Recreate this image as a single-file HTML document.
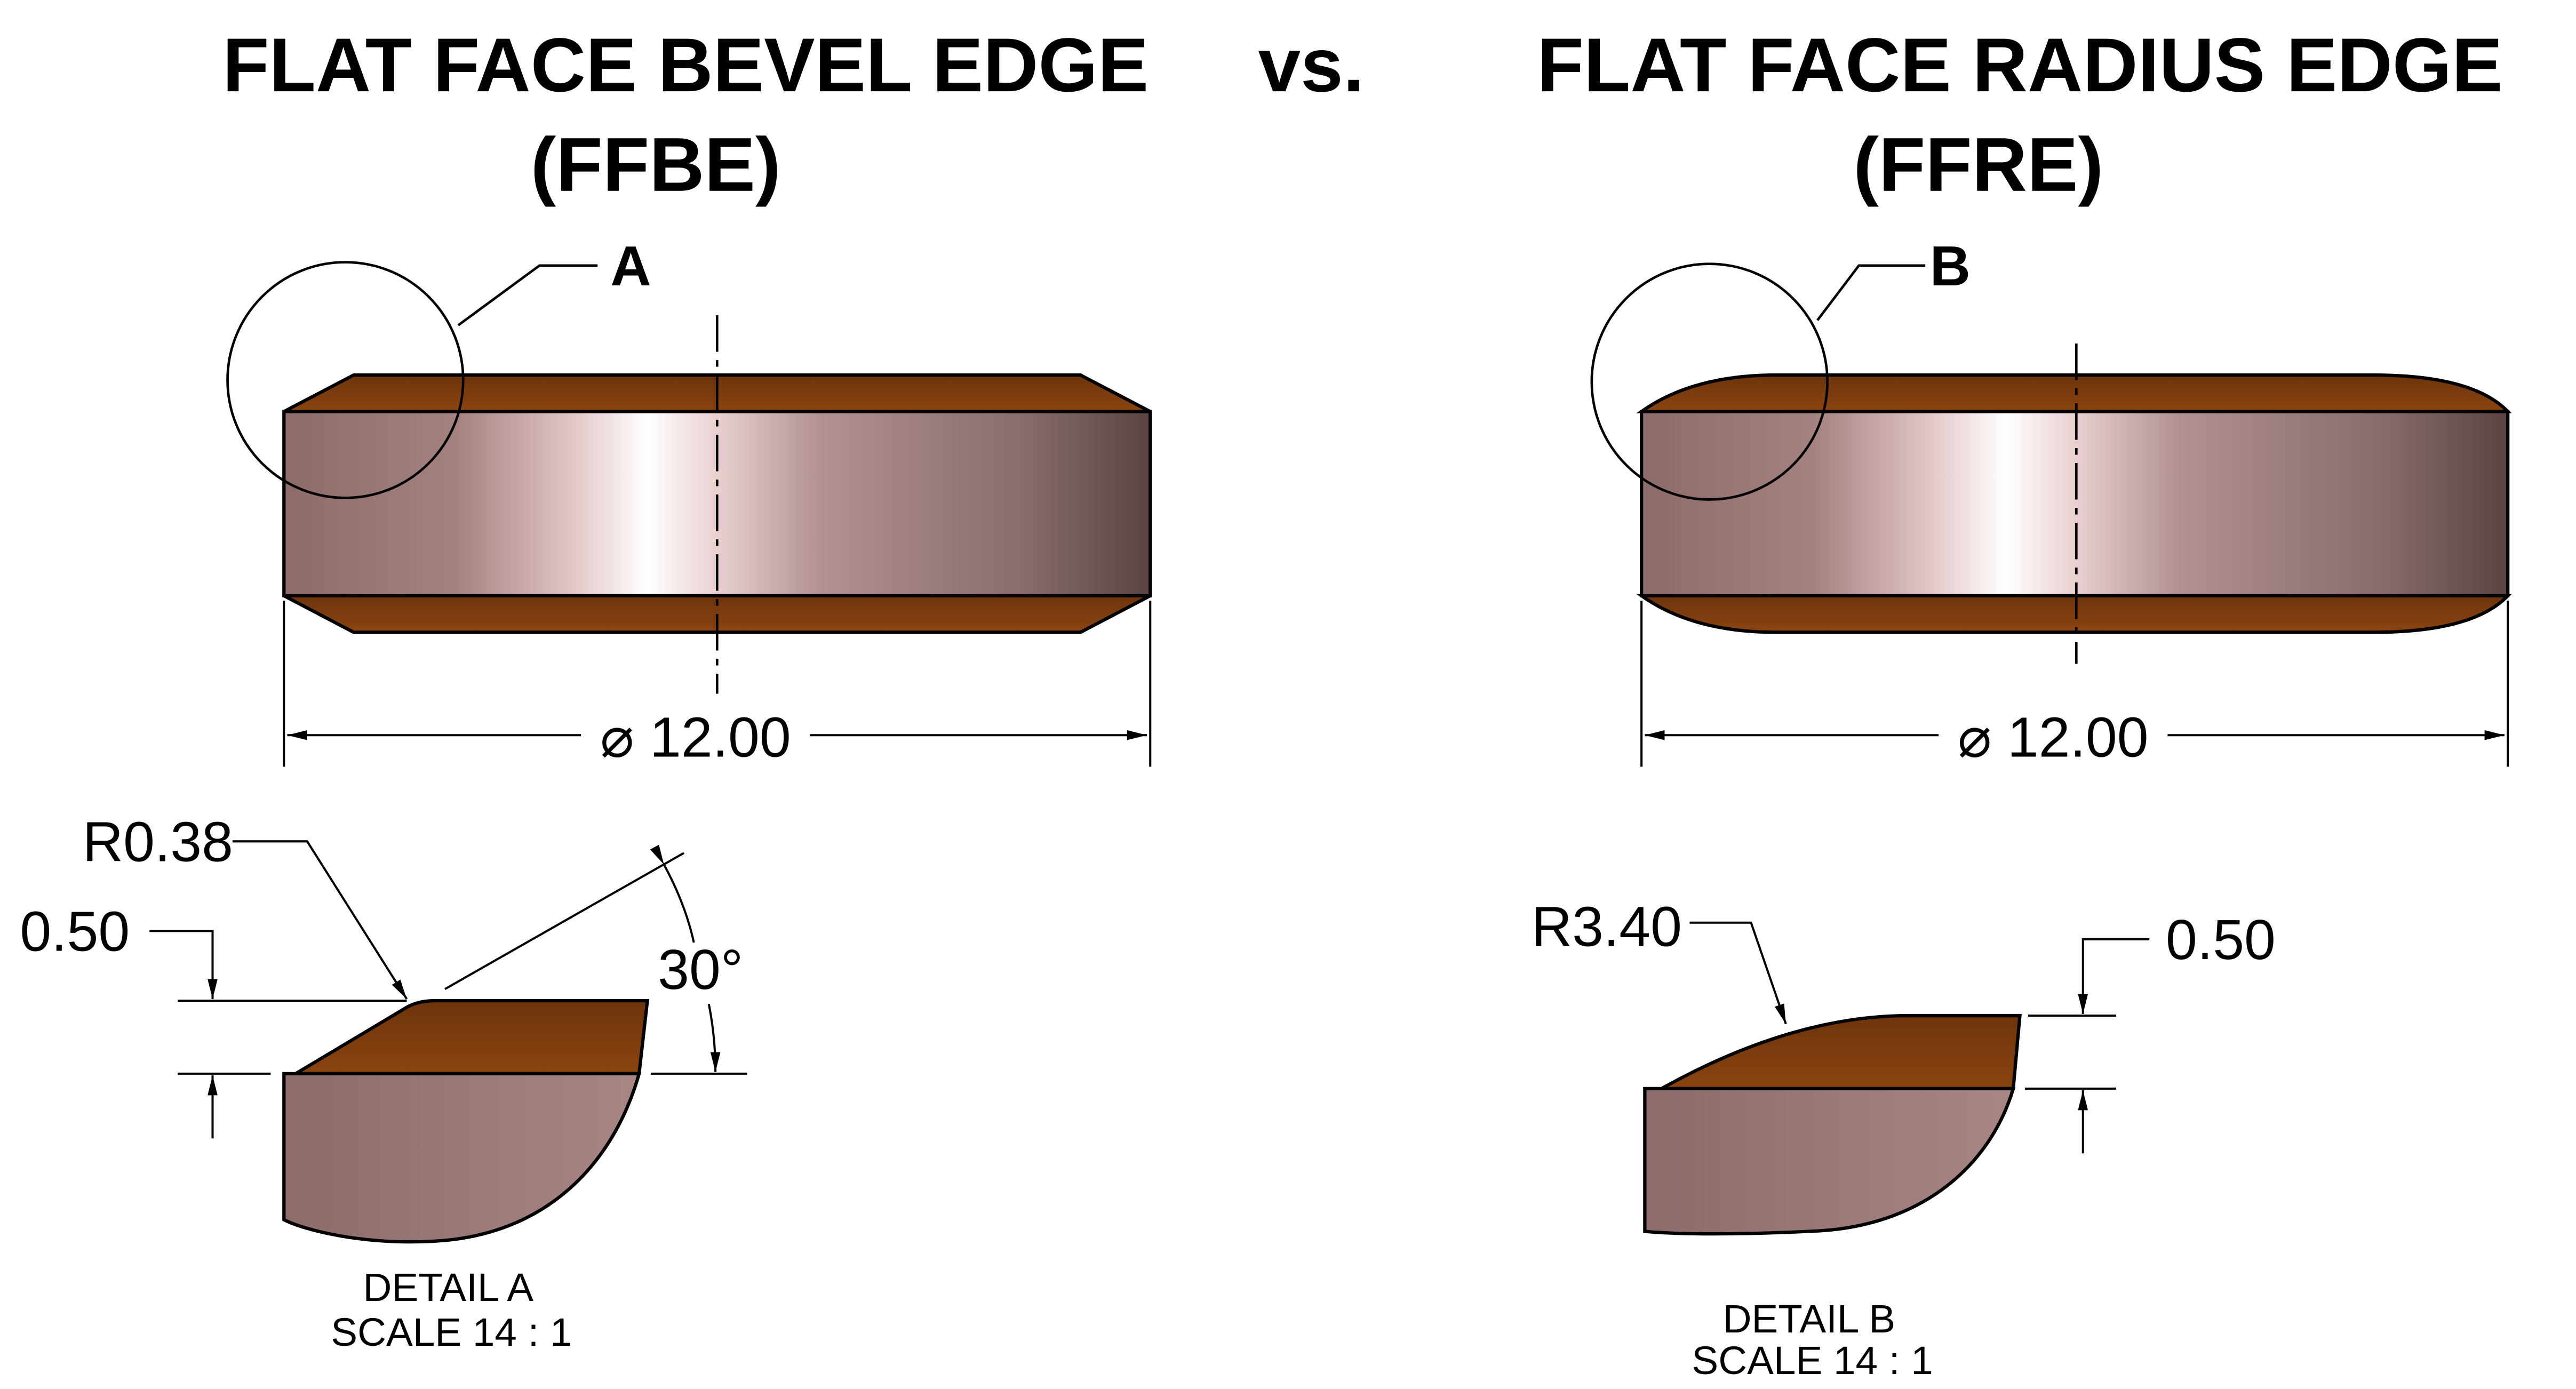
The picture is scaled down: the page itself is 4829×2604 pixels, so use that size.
<!DOCTYPE html>
<html><head><meta charset="utf-8"><style>
html,body{margin:0;padding:0;background:#fff;}
svg{display:block;}
text{font-family:"Liberation Sans","DejaVu Sans",sans-serif;}
</style></head><body>
<svg width="4829" height="2604" viewBox="0 0 1552 837" xmlns="http://www.w3.org/2000/svg">
<defs>
<linearGradient id="body" x1="0" x2="1" y1="0" y2="0">
<stop offset="0" stop-color="#8c6b6b"/>
<stop offset="0.2" stop-color="#a48282"/>
<stop offset="0.33" stop-color="#e2c4c4"/>
<stop offset="0.42" stop-color="#ffffff"/>
<stop offset="0.5" stop-color="#ead0d0"/>
<stop offset="0.62" stop-color="#b19191"/>
<stop offset="0.85" stop-color="#8a6c6c"/>
<stop offset="1" stop-color="#5a4444"/>
</linearGradient>
<linearGradient id="det" x1="0" x2="1" y1="0" y2="0">
<stop offset="0" stop-color="#8c6b6b"/>
<stop offset="1" stop-color="#a88686"/>
</linearGradient>
<linearGradient id="brn" x1="0" x2="0" y1="0" y2="1">
<stop offset="0" stop-color="#6e340c"/>
<stop offset="1" stop-color="#8a4410"/>
</linearGradient>
<marker id="ar" markerWidth="12" markerHeight="8" refX="12" refY="4" orient="auto" markerUnits="userSpaceOnUse">
<path d="M0,1 L12,4 L0,7 Z" fill="#000"/>
</marker>
</defs>
<g font-weight="bold" font-size="46" text-anchor="middle" fill="#000">
<text x="413" y="55">FLAT FACE BEVEL EDGE</text>
<text x="395" y="115">(FFBE)</text>
<text x="790" y="55">vs.</text>
<text x="1217" y="55">FLAT FACE RADIUS EDGE</text>
<text x="1192" y="115">(FFRE)</text>
</g>
<g stroke="#000" stroke-width="2">
<polygon points="171,248 213,226 651,226 693,248" fill="url(#brn)"/>
<polygon points="171,359 213,381 651,381 693,359" fill="url(#brn)"/>
<rect x="171" y="248" width="522" height="111" fill="url(#body)"/>
<line x1="432" y1="190" x2="432" y2="418" stroke-width="1.5" stroke-dasharray="22,5,4,5"/>
<circle cx="208" cy="229" r="71" fill="none" stroke-width="1.5"/>
<polyline points="276,196 325,160 360,160" fill="none" stroke-width="1.5"/>
<line x1="171" y1="362" x2="171" y2="462" stroke-width="1.3"/>
<line x1="693" y1="362" x2="693" y2="462" stroke-width="1.3"/>
<line x1="350" y1="443" x2="173" y2="443" stroke-width="1.3" marker-end="url(#ar)"/>
<line x1="488" y1="443" x2="691" y2="443" stroke-width="1.3" marker-end="url(#ar)"/>
<path d="M989,248 Q1020,226 1070,226 L1430,226 Q1490,226 1511,248 Z" fill="url(#brn)"/>
<path d="M989,359 Q1020,381 1070,381 L1430,381 Q1490,381 1511,359 Z" fill="url(#brn)"/>
<rect x="989" y="248" width="522" height="111" fill="url(#body)"/>
<line x1="1251" y1="207" x2="1251" y2="400" stroke-width="1.5" stroke-dasharray="22,5,4,5"/>
<circle cx="1030" cy="230" r="71" fill="none" stroke-width="1.5"/>
<polyline points="1095,193 1120,160 1160,160" fill="none" stroke-width="1.5"/>
<line x1="989" y1="362" x2="989" y2="462" stroke-width="1.3"/>
<line x1="1511" y1="362" x2="1511" y2="462" stroke-width="1.3"/>
<line x1="1168" y1="443" x2="991" y2="443" stroke-width="1.3" marker-end="url(#ar)"/>
<line x1="1306" y1="443" x2="1509" y2="443" stroke-width="1.3" marker-end="url(#ar)"/>
<path d="M178,647 L245,607 Q252,603 262,603 L390,603 L385,647 Z" fill="url(#brn)"/>
<path d="M171,647 L385,647 C370,700 330,745 260,748 C220,750 185,742 171,735 Z" fill="url(#det)"/>
<g stroke-width="1.3" fill="none">
<polyline points="140,507 185,507 245,602" marker-end="url(#ar)"/>
<polyline points="90,561 128,561 128,602" marker-end="url(#ar)"/>
<line x1="107" y1="603" x2="245" y2="603"/>
<line x1="107" y1="647" x2="163" y2="647"/>
<line x1="128" y1="686" x2="128" y2="648" marker-end="url(#ar)"/>
<line x1="268" y1="596" x2="412" y2="514"/>
<line x1="392" y1="647" x2="450" y2="647"/>
<path d="M400,521 Q413,545 418,568" marker-start="url(#ar)"/>
<path d="M427,605 Q431,625 431,646" marker-end="url(#ar)"/>
</g>
<path d="M1001,656 Q1080,612 1150,612 L1217,612 L1213,656 Z" fill="url(#brn)"/>
<path d="M991,656 L1213,656 C1200,700 1160,740 1090,742 C1050,744 1010,744 991,742 Z" fill="url(#det)"/>
<g stroke-width="1.3" fill="none">
<polyline points="1018,556 1055,556 1076,617" marker-end="url(#ar)"/>
<polyline points="1295,566 1255,566 1255,611" marker-end="url(#ar)"/>
<line x1="1222" y1="612" x2="1275" y2="612"/>
<line x1="1220" y1="656" x2="1275" y2="656"/>
<line x1="1255" y1="695" x2="1255" y2="657" marker-end="url(#ar)"/>
</g>
</g>
<g font-size="34" fill="#000">
<text x="380" y="172" font-weight="bold" text-anchor="middle">A</text>
<text x="1175" y="172" font-weight="bold" text-anchor="middle">B</text>
<text x="419" y="456" text-anchor="middle">⌀ 12.00</text>
<text x="1237" y="456" text-anchor="middle">⌀ 12.00</text>
<text x="95" y="519" text-anchor="middle">R0.38</text>
<text x="45" y="573" text-anchor="middle">0.50</text>
<text x="422" y="596" text-anchor="middle">30°</text>
<text x="968" y="570" text-anchor="middle">R3.40</text>
<text x="1338" y="578" text-anchor="middle">0.50</text>
</g>
<g font-size="24" fill="#000" text-anchor="middle">
<text x="270" y="784">DETAIL A</text>
<text x="272" y="811">SCALE 14 : 1</text>
<text x="1090" y="803">DETAIL B</text>
<text x="1092" y="828">SCALE 14 : 1</text>
</g>
</svg>
</body></html>
